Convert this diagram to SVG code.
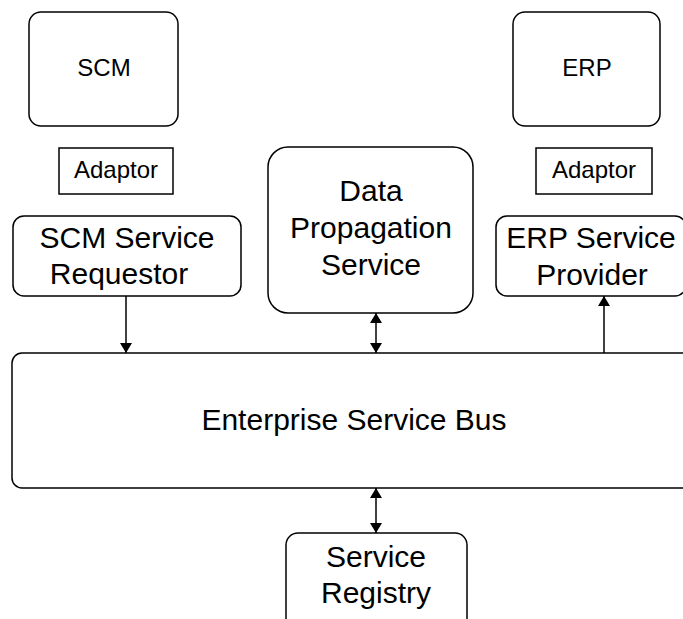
<svg xmlns="http://www.w3.org/2000/svg" width="683" height="619" viewBox="0 0 683 619">
<defs>
<style>
.box{fill:#fff;stroke:#000;stroke-width:1.5}
.t{font-family:"Liberation Sans",Arial,sans-serif;fill:#000;text-anchor:middle}
.s{font-size:24px}
.l{font-size:30px}
.c{stroke:#000;stroke-width:1.5;fill:none}
</style>
<marker id="ah" viewBox="0 0 10 12" refX="10" refY="6" markerWidth="10" markerHeight="12" markerUnits="userSpaceOnUse" orient="auto-start-reverse">
<path d="M0,0 L10,6 L0,12 Z" fill="#000"/>
</marker>
</defs>
<rect width="683" height="619" fill="#fff"/>
<g id="connectors">
<line class="c" x1="126" y1="296" x2="126" y2="353" marker-end="url(#ah)"/>
<line class="c" x1="376" y1="313" x2="376" y2="353" marker-start="url(#ah)" marker-end="url(#ah)"/>
<line class="c" x1="604" y1="353" x2="604" y2="296" marker-end="url(#ah)"/>
<line class="c" x1="376" y1="488" x2="376" y2="533" marker-start="url(#ah)" marker-end="url(#ah)"/>
</g>
<g id="scm">
<rect class="box" x="29" y="12" width="149" height="114" rx="12"/>
<text class="t s" x="104" y="76">SCM</text>
</g>
<g id="adaptor-scm">
<rect class="box" x="59" y="148" width="114" height="46"/>
<text class="t s" x="116" y="178">Adaptor</text>
</g>
<g id="scm-requestor">
<rect class="box" x="13" y="216" width="228" height="80" rx="11"/>
<text class="t l" x="127" y="248">SCM Service</text>
<text class="t l" x="119" y="284">Requestor</text>
</g>
<g id="data-propagation">
<rect class="box" x="268" y="147" width="205" height="166" rx="20"/>
<text class="t l" x="371" y="201">Data</text>
<text class="t l" x="371" y="238">Propagation</text>
<text class="t l" x="371" y="275">Service</text>
</g>
<g id="erp">
<rect class="box" x="513" y="12" width="147" height="114" rx="12"/>
<text class="t s" x="587" y="76">ERP</text>
</g>
<g id="adaptor-erp">
<rect class="box" x="536" y="148" width="116" height="46"/>
<text class="t s" x="594" y="178">Adaptor</text>
</g>
<g id="erp-provider">
<rect class="box" x="496" y="216" width="190" height="80" rx="11"/>
<text class="t l" x="591" y="248">ERP Service</text>
<text class="t l" x="592" y="285">Provider</text>
</g>
<g id="esb">
<rect class="box" x="12" y="353" width="690" height="135" rx="10"/>
<text class="t l" x="354" y="430">Enterprise Service Bus</text>
</g>
<g id="registry">
<rect class="box" x="286" y="533" width="181" height="100" rx="12"/>
<text class="t l" x="376" y="567">Service</text>
<text class="t l" x="376" y="603">Registry</text>
</g>
</svg>
